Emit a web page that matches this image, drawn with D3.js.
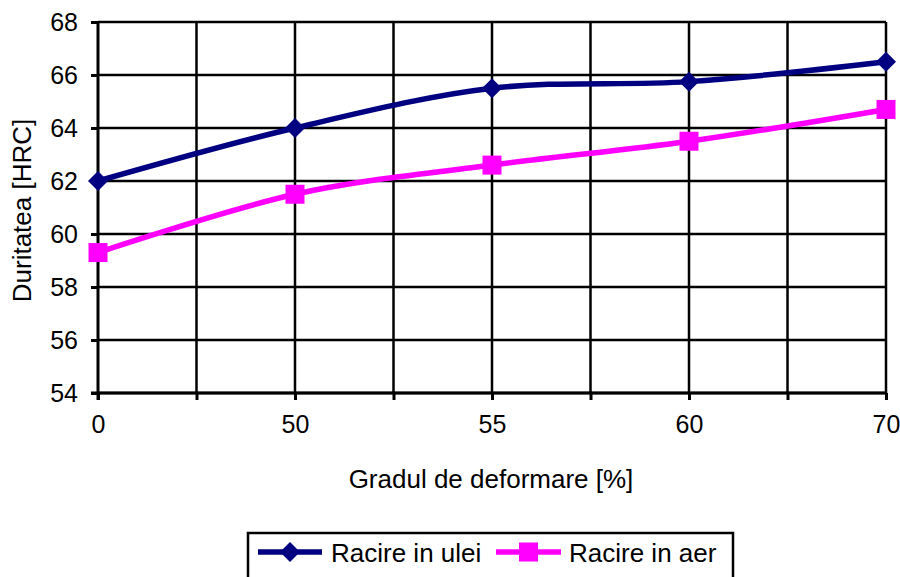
<!DOCTYPE html>
<html>
<head>
<meta charset="utf-8">
<script src="https://cdn.jsdelivr.net/npm/d3@7/dist/d3.min.js"></script>
<style>
  html, body { margin: 0; padding: 0; background: #fff; }
  svg { display: block; font-family: "Liberation Sans", Arial, sans-serif; }
</style>
</head>
<body>
<svg id="chart" width="900" height="577"></svg>
<script>
// Hardness vs. degree of deformation
const categories = ["0", "50", "55", "60", "70"];
const oilValues = [62.0, 64.0, 65.5, 65.75, 66.5];   // Racire in ulei
const airValues = [59.3, 61.5, 62.6, 63.5, 64.7];    // Racire in aer
const yTicks = [54, 56, 58, 60, 62, 64, 66, 68];
const seriesNames = ["Racire in ulei", "Racire in aer"];
const seriesColors = ["#000080", "#ff00ff"];

const FONT = "'Liberation Sans', Arial, sans-serif";
const svg = d3.select("#chart");
const plot = { left: 98, right: 886, top: 22, bottom: 393 };

// Points sit on every second grid slot: categories at index*2 of 8 slots
const xSlot = d3.scaleLinear().domain([0, 8]).range([plot.left, plot.right]);
const x = (i) => xSlot(i * 2);
const y = d3.scaleLinear().domain([54, 68]).range([plot.bottom, plot.top]);

// Horizontal grid lines
svg.append("g").selectAll("line").data(yTicks).join("line")
  .attr("x1", plot.left).attr("x2", plot.right)
  .attr("y1", d => y(d)).attr("y2", d => y(d))
  .attr("stroke", "#000").attr("stroke-width", 2.5);

// Vertical grid lines
svg.append("g").selectAll("line").data(d3.range(1, 9)).join("line")
  .attr("x1", d => xSlot(d)).attr("x2", d => xSlot(d))
  .attr("y1", plot.top).attr("y2", plot.bottom)
  .attr("stroke", "#000").attr("stroke-width", 2.5);

// Y axis
const yAxis = d3.axisLeft(y).tickValues(yTicks).tickSize(7).tickPadding(13);
const gy = svg.append("g").attr("transform", `translate(${plot.left},0)`).call(yAxis);
gy.attr("font-family", FONT).attr("font-size", 25);
gy.select(".domain").attr("stroke", "#000").attr("stroke-width", 3).attr("d", `M0,${plot.top}V${plot.bottom + 7}`);
gy.selectAll(".tick line").attr("stroke", "#000").attr("stroke-width", 3);
gy.selectAll(".tick text").attr("fill", "#000");

// X axis (slot ticks, category labels on even slots)
const xAxis = d3.axisBottom(xSlot).tickValues(d3.range(0, 9)).tickSize(7).tickPadding(15)
  .tickFormat(d => d % 2 === 0 ? categories[d / 2] : "");
const gx = svg.append("g").attr("transform", `translate(0,${plot.bottom})`).call(xAxis);
gx.attr("font-family", FONT).attr("font-size", 25);
gx.select(".domain").attr("stroke", "#000").attr("stroke-width", 3).attr("d", `M${plot.left - 7},0H${plot.right}`);
gx.selectAll(".tick line").attr("stroke", "#000").attr("stroke-width", 3);
gx.selectAll(".tick text").attr("fill", "#000");

// Axis titles
svg.append("text")
  .attr("transform", `translate(31,${(plot.top + plot.bottom) / 2 + 3}) rotate(-90)`)
  .attr("text-anchor", "middle").attr("font-size", 26).attr("fill", "#000")
  .text("Duritatea [HRC]");
svg.append("text")
  .attr("x", 491).attr("y", 488)
  .attr("text-anchor", "middle").attr("font-size", 26).attr("fill", "#000")
  .text("Gradul de deformare [%]");

// Series lines (smoothed)
const line = d3.line().x((d, i) => x(i)).y(d => y(d)).curve(d3.curveCatmullRom.alpha(0));
const seriesData = [oilValues, airValues];
seriesData.forEach((vals, s) => {
  svg.append("path").datum(vals)
    .attr("d", line).attr("fill", "none")
    .attr("stroke", seriesColors[s]).attr("stroke-width", 5.5)
    .attr("stroke-linejoin", "round");
});

// Markers
const diamond = (cx, cy, r) => `M${cx},${cy - r}L${cx + r},${cy}L${cx},${cy + r}L${cx - r},${cy}Z`;
svg.append("g").selectAll("path").data(oilValues).join("path")
  .attr("d", (d, i) => diamond(x(i), y(d), 10))
  .attr("fill", seriesColors[0]);
svg.append("g").selectAll("rect").data(airValues).join("rect")
  .attr("x", (d, i) => x(i) - 9.5).attr("y", d => y(d) - 9.5)
  .attr("width", 19).attr("height", 19)
  .attr("fill", seriesColors[1]);

// Legend
const legend = svg.append("g");
legend.append("rect")
  .attr("x", 248).attr("y", 533).attr("width", 485).attr("height", 60)
  .attr("fill", "#fff").attr("stroke", "#000").attr("stroke-width", 2.5);
const legendItems = [
  { x0: 258, x1: 322, tx: 331 },
  { x0: 496, x1: 561, tx: 569 }
];
legendItems.forEach((it, s) => {
  const cy = 552, cx = (it.x0 + it.x1) / 2;
  legend.append("line")
    .attr("x1", it.x0).attr("x2", it.x1).attr("y1", cy).attr("y2", cy)
    .attr("stroke", seriesColors[s]).attr("stroke-width", 5.5);
  if (s === 0) {
    legend.append("path").attr("d", diamond(cx, cy, 10)).attr("fill", seriesColors[s]);
  } else {
    legend.append("rect").attr("x", cx - 9.5).attr("y", cy - 9.5)
      .attr("width", 19).attr("height", 19).attr("fill", seriesColors[s]);
  }
  legend.append("text")
    .attr("x", it.tx).attr("y", 562)
    .attr("font-size", 26).attr("fill", "#000")
    .text(seriesNames[s]);
});
</script>
</body>
</html>
